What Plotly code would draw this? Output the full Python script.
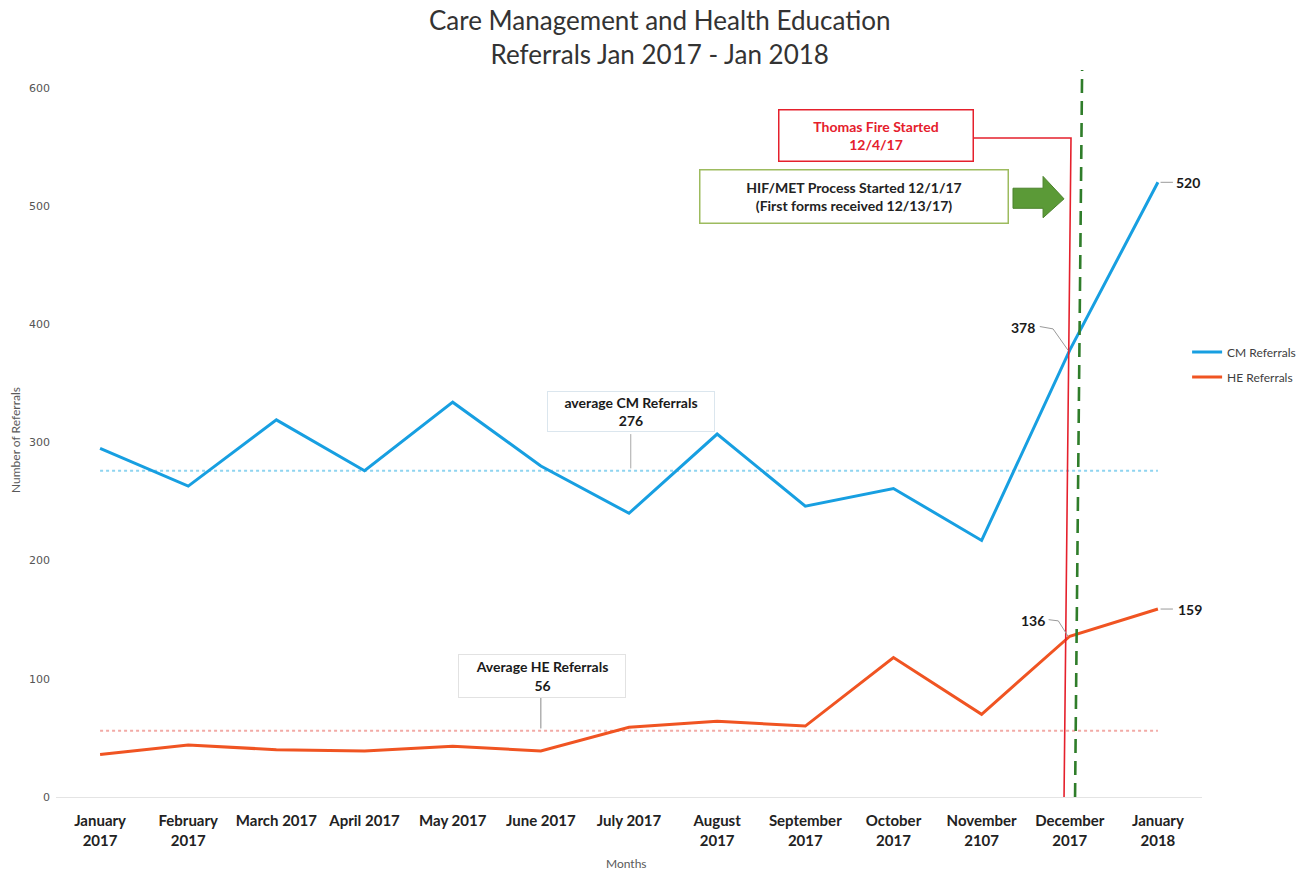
import plotly.graph_objects as go

# Monthly referral counts
months = ["January<br>2017", "February<br>2017", "March 2017", "April 2017", "May 2017",
          "June 2017", "July 2017", "August<br>2017", "September<br>2017", "October<br>2017",
          "November<br>2107", "December<br>2017", "January<br>2018"]
cm_referrals = [295, 263, 319, 276, 334, 280, 240, 307, 246, 261, 217, 378, 520]
he_referrals = [36, 44, 40, 39, 43, 39, 59, 64, 60, 118, 70, 136, 159]
cm_average = 276
he_average = 56
y_ticks = [0, 100, 200, 300, 400, 500, 600]

idx = list(range(len(months)))
last = idx[-1]
dec = idx[-2]

CM_COLOR = "#179fe1"
HE_COLOR = "#f05422"
FIRE_RED = "#e5202c"
GREEN = "#2f7d2a"
LABEL_FONT = "Lato"

fig = go.Figure()

# average reference lines
fig.add_trace(go.Scatter(x=[idx[0], last], y=[cm_average] * 2, mode="lines",
                         line=dict(color="#8ed4f0", width=2, dash="dot"),
                         showlegend=False, hoverinfo="skip"))
fig.add_trace(go.Scatter(x=[idx[0], last], y=[he_average] * 2, mode="lines",
                         line=dict(color="#f2aaa6", width=2, dash="dot"),
                         showlegend=False, hoverinfo="skip"))

# referral series
fig.add_trace(go.Scatter(x=idx, y=cm_referrals, mode="lines", name="CM Referrals",
                         legendgroup="cm", line=dict(color=CM_COLOR, width=3)))
fig.add_trace(go.Scatter(x=idx, y=he_referrals, mode="lines", name="HE Referrals",
                         legendgroup="he", line=dict(color=HE_COLOR, width=3)))

shapes = []
annotations = []

# Thomas Fire marker line with connector to its note
fire_top = 557.5
shapes.append(dict(type="path", xref="x", yref="y",
                   path=f"M 9.90 {fire_top} L 11.014 {fire_top} L 10.935 0",
                   line=dict(color=FIRE_RED, width=1.6)))
# HIF/MET start line
shapes.append(dict(type="line", xref="x", yref="paper", x0=11.06, y0=0, x1=11.14, y1=1,
                   line=dict(color=GREEN, width=2.6, dash="14px,8px")))
# block arrow pointing at the HIF/MET line
shapes.append(dict(type="path", xref="x", yref="y",
                   path="M 10.356 515 L 10.697 515 L 10.697 525 L 10.935 506 "
                        "L 10.697 490 L 10.697 498 L 10.356 498 Z",
                   fillcolor="#5b9a37", line=dict(color="#4b822c", width=1)))

# leader lines for the point labels
grey = "#9a9a9a"
shapes.append(dict(type="line", xref="x", yref="y", x0=last + 0.03, x1=last + 0.17,
                   y0=cm_referrals[last], y1=cm_referrals[last], line=dict(color=grey, width=1)))
shapes.append(dict(type="line", xref="x", yref="y", x0=last + 0.03, x1=last + 0.17,
                   y0=he_referrals[last], y1=he_referrals[last], line=dict(color=grey, width=1)))
shapes.append(dict(type="path", xref="x", yref="y",
                   path=f"M {dec - 0.34} {cm_referrals[dec] + 20} L {dec - 0.19} {cm_referrals[dec] + 18} "
                        f"L {dec - 0.02} {cm_referrals[dec]}",
                   line=dict(color=grey, width=1)))
shapes.append(dict(type="path", xref="x", yref="y",
                   path=f"M {dec - 0.24} {he_referrals[dec] + 14} L {dec - 0.13} {he_referrals[dec] + 13} "
                        f"L {dec - 0.02} {he_referrals[dec]}",
                   line=dict(color=grey, width=1)))
# leader lines for the average notes
shapes.append(dict(type="line", xref="x", yref="y", x0=6.02, x1=6.02, y0=cm_average + 2,
                   y1=cm_average + 31, line=dict(color="#a8a8a8", width=1)))
shapes.append(dict(type="line", xref="x", yref="y", x0=5.0, x1=5.0, y0=he_average + 2,
                   y1=he_average + 28, line=dict(color="#8a8a8a", width=1)))

fig.update_layout(shapes=shapes)

# point value labels
lab = dict(family=LABEL_FONT, size=14, color="#1a1a1a", weight="bold")
annotations += [
    dict(x=last, y=cm_referrals[last], text=str(cm_referrals[last]), showarrow=False,
         xshift=30, yshift=0, font=lab),
    dict(x=last, y=he_referrals[last], text=str(he_referrals[last]), showarrow=False,
         xshift=32, yshift=0, font=lab),
    dict(x=dec, y=cm_referrals[dec], text=str(cm_referrals[dec]), showarrow=False,
         xshift=-47, yshift=23, font=lab),
    dict(x=dec, y=he_referrals[dec], text=str(he_referrals[dec]), showarrow=False,
         xshift=-37, yshift=16, font=lab),
]

# note boxes
annotations += [
    dict(x=8.797, y=560, xref="x", yref="y", showarrow=False,
         text="Thomas Fire Started<br>12/4/17", width=191, height=48,
         bgcolor="white", bordercolor=FIRE_RED, borderwidth=1.5, borderpad=1,
         font=dict(family=LABEL_FONT, size=14, color=FIRE_RED, weight="bold")),
    dict(x=8.547, y=507.6, xref="x", yref="y", showarrow=False,
         text="HIF/MET Process Started 12/1/17<br>(First forms received 12/13/17)",
         width=305, height=50, bgcolor="white", bordercolor="#9dbb5e", borderwidth=1.5,
         borderpad=1, font=dict(family=LABEL_FONT, size=14, color="#222222", weight="bold")),
    dict(x=6.02, y=cm_average + 50, xref="x", yref="y", showarrow=False,
         text=f"average CM Referrals<br>{cm_average}", width=164, height=37,
         bgcolor="white", bordercolor="#dbe6ee", borderwidth=1, borderpad=1,
         font=dict(family=LABEL_FONT, size=14, color="#1a1a1a", weight="bold")),
    dict(x=5.01, y=102, xref="x", yref="y", showarrow=False,
         text=f"Average HE Referrals<br>{he_average}", width=164, height=40,
         bgcolor="white", bordercolor="#e2e2e2", borderwidth=1, borderpad=1,
         font=dict(family=LABEL_FONT, size=14, color="#1a1a1a", weight="bold")),
]

# chart title and axis titles
annotations += [
    dict(x=604 / 1146, y=1.093, xref="paper", yref="paper", showarrow=False,
         xanchor="center", yanchor="top",
         text="Care Management and Health Education<br>Referrals Jan 2017 - Jan 2018",
         font=dict(family=LABEL_FONT, size=26, color="#333333")),
    dict(x=0.498, y=-0.092, xref="paper", yref="paper", showarrow=False, text="Months",
         xanchor="center", yanchor="middle",
         font=dict(family=LABEL_FONT, size=12, color="#595959")),
    dict(x=-0.0358, y=0.491, xref="paper", yref="paper", showarrow=False,
         text="Number of Referrals", textangle=-90, xanchor="center", yanchor="middle",
         font=dict(family=LABEL_FONT, size=12, color="#595959")),
]

fig.update_layout(
    width=1297, height=872,
    margin=dict(l=56, r=95, t=70, b=75, autoexpand=False),
    plot_bgcolor="white", paper_bgcolor="white",
    xaxis=dict(range=[-0.5, 12.5], tickvals=idx, ticktext=months, showgrid=False,
               zeroline=False, showline=True, linecolor="#e4e4e4", linewidth=1,
               ticks="", ticklabelstandoff=10, automargin=False,
               tickfont=dict(family=LABEL_FONT, size=15, color="#222222", weight="bold")),
    yaxis=dict(range=[0, 615], tickvals=y_ticks, showgrid=False, zeroline=False,
               showline=False, ticks="", ticklabelstandoff=5, automargin=False,
               tickfont=dict(family="DejaVu Sans", size=11, color="#555555")),
    legend=dict(x=0.987, y=0.632, xanchor="left", yanchor="top",
                font=dict(family=LABEL_FONT, size=12, color="#404040"),
                bgcolor="rgba(0,0,0,0)", itemwidth=30, tracegroupgap=6),
    annotations=annotations,
    hovermode=False,
)

fig.write_html("out.html")
